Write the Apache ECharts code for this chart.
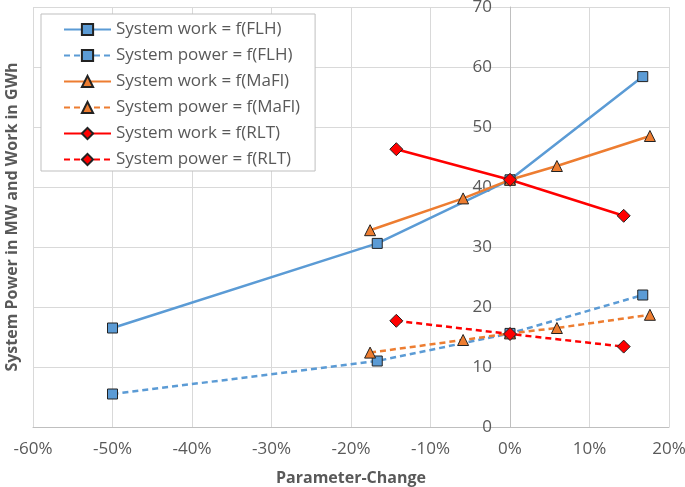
<!DOCTYPE html>
<html><head><meta charset="utf-8">
<script src="https://cdn.jsdelivr.net/npm/echarts@6/dist/echarts.min.js"></script>
<style>html,body{margin:0;padding:0;background:#fff}#c{width:685px;height:487px}</style>
</head><body><div id="c"></div>
<script>
// Data (x in percent parameter change, y in MW / GWh)
const flhX = [-50, -16.7, 0, 16.7];
const flhWork = [16.5, 30.6, 41.2, 58.4];
const flhPower = [5.5, 11.0, 15.6, 22.0];
const maflX = [-17.6, -5.9, 0, 5.9, 17.6];
const maflWork = [32.8, 38.1, 41.2, 43.5, 48.5];
const maflPower = [12.4, 14.5, 15.6, 16.5, 18.7];
const rltX = [-14.3, 0, 14.3];
const rltWork = [46.3, 41.2, 35.2];
const rltPower = [17.7, 15.5, 13.4];
const seriesNames = ['System work = f(FLH)','System power = f(FLH)','System work = f(MaFl)','System power = f(MaFl)','System work = f(RLT)','System power = f(RLT)'];
const xTitle = 'Parameter-Change';
const yTitle = 'System Power in MW and Work in GWh';

const FONT = 'Open Sans';
const W = 685, GL = 33, GR = 16, XMIN = -60, XMAX = 20;
const zeroOffset = -((W - GL - GR) * (0 - XMIN) / (XMAX - XMIN));
const zip = (xs, ys) => xs.map((x, i) => [x, ys[i]]);
function mk(name, xs, ys, color, dashed, symbol, size) {
  return {
    name, type: 'line', data: zip(xs, ys), symbol, symbolSize: size,
    lineStyle: { color, width: 2.5, type: dashed ? [6, 4] : 'solid' },
    itemStyle: { color, borderColor: '#222', borderWidth: 1 },
    emphasis: { disabled: true }, z: 3
  };
}
const blue = '#5b9bd5', orange = '#ed7d31', red = '#ff0000';
const chart = echarts.init(document.getElementById('c'));
chart.setOption({
  animation: false,
  textStyle: { fontFamily: FONT },
  grid: { left: GL, right: GR, top: 7, bottom: 60, containLabel: false, outerBoundsMode: 'none' },
  legend: {
    orient: 'vertical', left: 41, top: 14,
    data: seriesNames,
    backgroundColor: '#fff', borderColor: '#bfbfbf', borderWidth: 1,
    padding: [7, 15, 3, 22],
    itemWidth: 47, itemHeight: 14, itemGap: 9,
    textStyle: { fontFamily: FONT, fontSize: 17, color: '#595959' }
  },
  xAxis: {
    type: 'value', min: XMIN, max: XMAX, interval: 10,
    name: xTitle, nameLocation: 'middle', nameGap: 43,
    nameTextStyle: { fontFamily: FONT, fontSize: 16, fontWeight: 'bold', color: '#595959' },
    axisLine: { show: true, onZero: false, lineStyle: { color: '#bfbfbf', width: 1 } },
    axisTick: { show: false },
    axisLabel: { formatter: v => v + '%', fontSize: 17, color: '#595959', margin: 14 },
    splitLine: { show: true, lineStyle: { color: '#d9d9d9', width: 1 } }
  },
  yAxis: [{
    type: 'value', min: 0, max: 70, interval: 10, position: 'left', offset: zeroOffset,
    axisLine: { show: true, onZero: false, lineStyle: { color: '#bfbfbf', width: 1 } },
    axisTick: { show: false },
    axisLabel: { fontSize: 17, color: '#595959', margin: 18 },
    splitLine: { show: true, lineStyle: { color: '#d9d9d9', width: 1 } }
  }, {
    type: 'value', min: 0, max: 70, interval: 10, position: 'left',
    name: yTitle, nameLocation: 'middle', nameGap: 13,
    nameTextStyle: { fontFamily: FONT, fontSize: 16, fontWeight: 'bold', color: '#595959' },
    axisLine: { show: false }, axisTick: { show: false }, axisLabel: { show: false }, splitLine: { show: false }
  }],
  series: [
    mk(seriesNames[0], flhX, flhWork, blue, false, 'rect', 10),
    mk(seriesNames[1], flhX, flhPower, blue, true, 'rect', 10),
    mk(seriesNames[2], maflX, maflWork, orange, false, 'triangle', 11),
    mk(seriesNames[3], maflX, maflPower, orange, true, 'triangle', 11),
    mk(seriesNames[4], rltX, rltWork, red, false, 'diamond', 13),
    mk(seriesNames[5], rltX, rltPower, red, true, 'diamond', 13)
  ]
});
</script></body></html>
